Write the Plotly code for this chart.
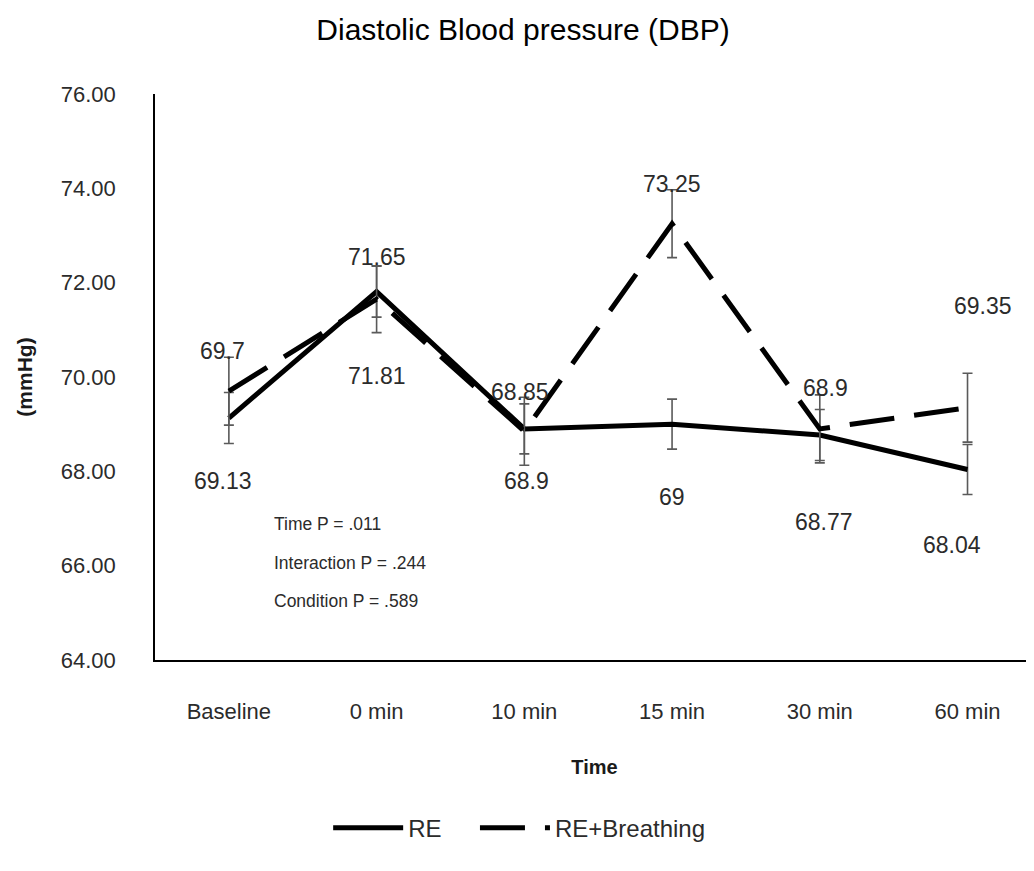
import plotly.graph_objects as go

categories = ["Baseline", "0 min", "10 min", "15 min", "30 min", "60 min"]
re_values = [69.13, 71.81, 68.9, 69, 68.77, 68.04]
reb_values = [69.7, 71.65, 68.85, 73.25, 68.9, 69.35]
re_err = [0.54, 0.54, 0.53, 0.53, 0.54, 0.53]
reb_err = [0.72, 0.71, 0.72, 0.72, 0.72, 0.73]
re_labels = ["69.13", "71.81", "68.9", "69", "68.77", "68.04"]
reb_labels = ["69.7", "71.65", "68.85", "73.25", "68.9", "69.35"]
stats_text = ["Time P = .011", "Interaction P = .244", "Condition P = .589"]
y_ticks = [64, 66, 68, 70, 72, 74, 76]

FONT = "Liberation Sans"
TXT = "#2b2b2b"
xs = list(range(len(categories)))

fig = go.Figure()
fig.add_trace(go.Scatter(
    x=xs, y=re_values, mode="lines", name="RE", legend="legend",
    line=dict(color="black", width=5),
    error_y=dict(type="data", array=re_err, visible=True, color="#5a5a5a", thickness=1.6, width=5),
))
fig.add_trace(go.Scatter(
    x=xs, y=reb_values, mode="lines", name="RE+Breathing", legend="legend2",
    line=dict(color="black", width=5, dash="45px,20px"),
    error_y=dict(type="data", array=reb_err, visible=True, color="#5a5a5a", thickness=1.6, width=5),
))

# data label offsets (pixels) relative to points
re_shift = [(-6, -63), (0, -84), (2, -52), (0, -73), (4, -87), (-16, -76)]
reb_shift = [(-6, 40), (0, 42), (-4, 39), (0, 40), (6, 41), (15, 102)]
for i, (v, t) in enumerate(zip(re_values, re_labels)):
    fig.add_annotation(x=i, y=v, text=t, showarrow=False,
                       xshift=re_shift[i][0], yshift=re_shift[i][1],
                       font=dict(family=FONT, size=23, color=TXT))
for i, (v, t) in enumerate(zip(reb_values, reb_labels)):
    fig.add_annotation(x=i, y=v, text=t, showarrow=False,
                       xshift=reb_shift[i][0], yshift=reb_shift[i][1],
                       font=dict(family=FONT, size=23, color=TXT))

for j, t in enumerate(stats_text):
    fig.add_annotation(x=0.133, y=0.240 - j * 0.068, xref="paper", yref="paper",
                       text=t, showarrow=False, xanchor="left", yanchor="middle",
                       font=dict(family=FONT, size=17.5, color=TXT))

legend_common = dict(orientation="h", y=-0.297, yanchor="middle", xanchor="left",
                     font=dict(family=FONT, size=24, color=TXT), itemwidth=70,
                     bgcolor="rgba(0,0,0,0)")

fig.update_layout(
    width=1026, height=871,
    margin=dict(l=147, r=0, t=86, b=219),
    paper_bgcolor="white", plot_bgcolor="white",
    title=dict(text="Diastolic Blood pressure (DBP)", x=0.502, xanchor="center",
               y=0.975, yanchor="middle",
               font=dict(family=FONT, size=30, color="black")),
    font=dict(family=FONT, color=TXT),
    showlegend=True,
    legend=dict(x=0.197, **legend_common),
    legend2=dict(x=0.364, **legend_common),
    xaxis=dict(
        tickmode="array", tickvals=xs, ticktext=categories,
        range=[-0.5, 5.45], showgrid=False, zeroline=False,
        showline=True, linecolor="black", linewidth=1.5,
        ticks="", ticklabelstandoff=31,
        tickfont=dict(family=FONT, size=22, color=TXT),
        title=dict(text="<b>Time</b>", font=dict(family=FONT, size=20, color="#1a1a1a"), standoff=37),
    ),
    yaxis=dict(
        range=[64, 76], tickvals=y_ticks, ticktext=[f"{v:.2f}" for v in y_ticks],
        showgrid=False, zeroline=False,
        showline=True, linecolor="black", linewidth=1.5,
        ticks="", ticklabelstandoff=33,
        tickfont=dict(family=FONT, size=22, color=TXT),
        title=dict(text="<b>(mmHg)</b>", font=dict(family=FONT, size=21, color="#1a1a1a"), standoff=22),
    ),
)

fig.write_html("out.html")
